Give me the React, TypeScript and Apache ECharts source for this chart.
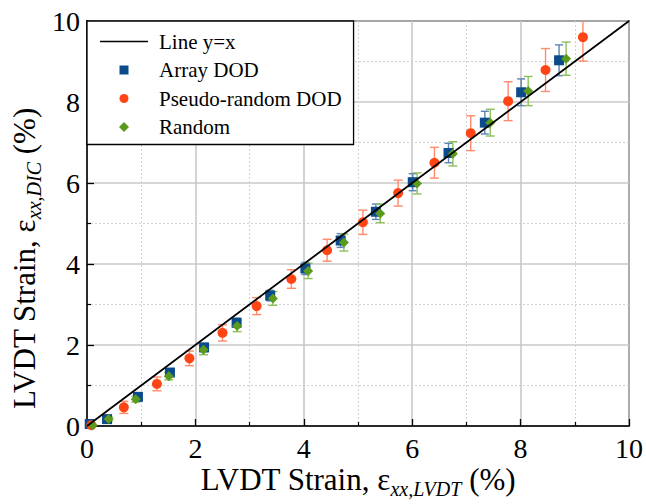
import React, { useEffect, useRef } from "react";
import * as echarts from "echarts";

// ---- data ----
const arrayX = [0.05, 0.37, 0.94, 1.53, 2.16, 2.76, 3.38, 4.03, 4.68, 5.33, 6.01, 6.67, 7.34, 8.01, 8.71];
const arrayY = [0.05, 0.17, 0.72, 1.32, 1.94, 2.55, 3.22, 3.89, 4.58, 5.29, 6.02, 6.74, 7.49, 8.24, 9.03];
const arrayErr = [0.02, 0.04, 0.06, 0.08, 0.1, 0.11, 0.13, 0.15, 0.17, 0.19, 0.21, 0.24, 0.28, 0.33, 0.38];

const pseudoX = [0.08, 0.68, 1.29, 1.89, 2.5, 3.13, 3.77, 4.43, 5.09, 5.74, 6.41, 7.08, 7.77, 8.46, 9.15];
const pseudoY = [0.02, 0.46, 1.04, 1.67, 2.3, 2.96, 3.63, 4.34, 5.03, 5.75, 6.5, 7.23, 8.02, 8.79, 9.6];
const pseudoErr = [0.03, 0.15, 0.17, 0.18, 0.2, 0.21, 0.23, 0.27, 0.3, 0.32, 0.38, 0.43, 0.48, 0.53, 0.59];

const randomX = [0.1, 0.4, 0.9, 1.51, 2.15, 2.77, 3.43, 4.08, 4.74, 5.41, 6.09, 6.75, 7.44, 8.14, 8.84];
const randomY = [0.02, 0.17, 0.66, 1.23, 1.88, 2.47, 3.15, 3.83, 4.53, 5.25, 5.99, 6.72, 7.49, 8.27, 9.07];
const randomErr = [0.02, 0.05, 0.07, 0.09, 0.12, 0.14, 0.17, 0.19, 0.21, 0.23, 0.26, 0.3, 0.33, 0.36, 0.41];

const refLineX = [0, 10];
const refLineY = [0, 10];

const seriesNames = ["Line y=x", "Array DOD", "Pseudo-random DOD", "Random"];
const axisMin = 0;
const axisMax = 10;
const axisStep = 2;

const FONT = "Liberation Serif";
const BLUE = "#0b4a8b";
const RED = "#ff4516";
const GREEN = "#5a9b1e";
const BLUE_ERR = "#5a84b6";
const RED_ERR = "#ff8a6c";
const GREEN_ERR = "#8dc05c";

// legend icons (box 48 x 10 defined by the leading move-to points)
const ICON_LINE = "path://M0,0M48,10M0,4.2H48V5.8H0Z";
const ICON_SQUARE = "path://M0,0M48,10M19.5,0.5H28.5V9.5H19.5Z";
const ICON_CIRCLE = "path://M0,0M48,10M28.5,5A4.5,4.5,0,1,1,19.5,5A4.5,4.5,0,1,1,28.5,5Z";
const ICON_DIAMOND = "path://M0,0M48,10M24,0L29,5L24,10L19,5Z";

const zip3 = (xs: number[], ys: number[], es: number[]) => xs.map((x, i) => [x, ys[i], es[i]]);
const zip2 = (xs: number[], ys: number[]) => xs.map((x, i) => [x, ys[i]]);

const errRender = (color: string, cap: number) => (params: any, api: any) => {
  const x = api.value(0);
  const y = api.value(1);
  const e = api.value(2);
  const lo = api.coord([x, y - e]);
  const hi = api.coord([x, y + e]);
  const style = { stroke: color, lineWidth: 1.4, fill: "none" };
  return {
    type: "group",
    children: [
      { type: "line", shape: { x1: lo[0], y1: lo[1], x2: hi[0], y2: hi[1] }, style },
      { type: "line", shape: { x1: lo[0] - cap, y1: lo[1], x2: lo[0] + cap, y2: lo[1] }, style },
      { type: "line", shape: { x1: hi[0] - cap, y1: hi[1], x2: hi[0] + cap, y2: hi[1] }, style },
    ],
  };
};

const axisCommon = (name: string) => ({
  type: "value",
  min: axisMin,
  max: axisMax,
  interval: axisStep,
  name,
  nameLocation: "middle",
  nameMoveOverlap: false,
  nameTextStyle: {
    fontFamily: FONT,
    rich: {
      m: { fontFamily: FONT, fontSize: 31, color: "#000" },
      s: { fontFamily: FONT, fontSize: 20, fontStyle: "italic", color: "#000", padding: [20, 0, 0, 0] },
    },
  },
  axisLine: { show: true, onZero: false, lineStyle: { color: "#000", width: 1.5 } },
  axisTick: { show: true, inside: true, length: 7, lineStyle: { color: "#000", width: 1.3 } },
  minorTick: { show: true, splitNumber: 2, length: 4, lineStyle: { color: "#000", width: 1.2 } },
  splitLine: { show: true, lineStyle: { color: "#c8c8c8", width: 1.6 } },
  minorSplitLine: { show: true, lineStyle: { color: "#d2d2d2", width: 1, type: [2, 2] } },
  axisLabel: { fontFamily: FONT, fontSize: 28, color: "#000" },
});

export default function App() {
  const ref = useRef<HTMLDivElement>(null);
  useEffect(() => {
    document.body.style.margin = "0";
    const chart = echarts.init(ref.current!, null, { renderer: "svg" });
    const xAxis: any = axisCommon("{m|LVDT Strain, ε}{s|xx,LVDT}{m| (%)}");
    xAxis.nameGap = 33;
    xAxis.axisLabel.margin = 8;
    const yAxis: any = axisCommon("{m|LVDT Strain, ε}{s|xx,DIC}{m| (%)}");
    yAxis.nameGap = 43;
    yAxis.axisLabel.margin = 7;
    yAxis.nameTextStyle.padding = [0, 70, 0, 0];

    chart.setOption({
      animation: false,
      backgroundColor: "#fff",
      textStyle: { fontFamily: FONT },
      grid: {
        left: 87, right: 17, top: 21, bottom: 78,
        containLabel: false, outerBoundsMode: "none",
        show: true, borderColor: "#000", borderWidth: 1.5, backgroundColor: "transparent",
      },
      xAxis,
      yAxis,
      legend: {
        data: [
          { name: seriesNames[0], icon: ICON_LINE, itemStyle: { color: "#000" } },
          { name: seriesNames[1], icon: ICON_SQUARE, itemStyle: { color: BLUE } },
          { name: seriesNames[2], icon: ICON_CIRCLE, itemStyle: { color: RED } },
          { name: seriesNames[3], icon: ICON_DIAMOND, itemStyle: { color: GREEN } },
        ],
        orient: "vertical",
        left: 87,
        top: 21,
        itemWidth: 48,
        itemHeight: 10,
        itemGap: 7.5,
        padding: [10, 12, 7, 13],
        backgroundColor: "#fff",
        borderColor: "#000",
        borderWidth: 1.3,
        borderRadius: 0,
        textStyle: { fontFamily: FONT, fontSize: 21, color: "#000", padding: [0, 0, 0, 6] },
        z: 10,
      },
      series: [
        { name: "Array DOD err", type: "custom", renderItem: errRender(BLUE_ERR, 4), data: zip3(arrayX, arrayY, arrayErr), encode: { x: 0, y: 1 }, clip: true, z: 2, silent: true },
        { name: "Pseudo-random DOD err", type: "custom", renderItem: errRender(RED_ERR, 4.5), data: zip3(pseudoX, pseudoY, pseudoErr), encode: { x: 0, y: 1 }, clip: true, z: 2, silent: true },
        { name: "Random err", type: "custom", renderItem: errRender(GREEN_ERR, 4.5), data: zip3(randomX, randomY, randomErr), encode: { x: 0, y: 1 }, clip: true, z: 2, silent: true },
        { name: "Array DOD", type: "scatter", symbol: "rect", symbolSize: 10, itemStyle: { color: BLUE, opacity: 1 }, data: zip2(arrayX, arrayY), z: 3 },
        { name: "Pseudo-random DOD", type: "scatter", symbol: "circle", symbolSize: 10, itemStyle: { color: RED, opacity: 1 }, data: zip2(pseudoX, pseudoY), z: 3 },
        { name: "Random", type: "scatter", symbol: "diamond", symbolSize: 10, itemStyle: { color: GREEN, opacity: 1 }, data: zip2(randomX, randomY), z: 3 },
        { name: "Line y=x", type: "line", data: zip2(refLineX, refLineY), symbol: "none", lineStyle: { color: "#000", width: 1.8 }, itemStyle: { color: "#000" }, z: 4, silent: true },
      ],
    });
    return () => chart.dispose();
  }, []);
  return <div ref={ref} style={{ width: 646, height: 504 }} />;
}
